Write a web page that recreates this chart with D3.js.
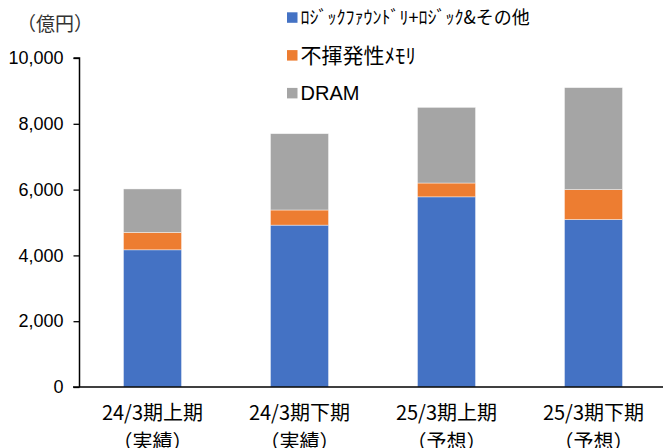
<!DOCTYPE html>
<html>
<head>
<meta charset="utf-8">
<script src="https://cdn.jsdelivr.net/npm/d3@7"></script>
<style>
  body { margin: 0; background: #fff; }
  svg { display: block; }
</style>
</head>
<body>
<svg width="663" height="448"></svg>
<script>
// データ（億円）
const categories = ["24/3期上期", "24/3期下期", "25/3期上期", "25/3期下期"];
const subLabels = ["（実績）", "（実績）", "（予想）", "（予想）"];
const seriesNames = ["ﾛｼﾞｯｸﾌｧｳﾝﾄﾞﾘ+ﾛｼﾞｯｸ&その他", "不揮発性ﾒﾓﾘ", "DRAM"];
const logicValues = [4170, 4920, 5780, 5090];
const nandValues = [530, 460, 420, 910];
const dramValues = [1320, 2320, 2300, 3100];
const yTicks = [0, 2000, 4000, 6000, 8000, 10000];

const colors = ["#4472C4", "#ED7D31", "#A5A5A5"];
const legendFont = [18, 21, 20];

const svg = d3.select("svg");

/*----- echelles -----*/
const x = d3.scaleBand()
  .domain(categories)
  .range([79, 667])
  .paddingInner(0.605)
  .paddingOuter(0.3025);
const y = d3.scaleLinear().domain([0, 10000]).range([387, 58]);

// empilement
const rows = categories.map((c, i) => ({
  cat: c, s0: logicValues[i], s1: nandValues[i], s2: dramValues[i]
}));
const stacked = d3.stack().keys(["s0", "s1", "s2"])(rows);

svg.append("g")
  .selectAll("g")
  .data(stacked)
  .join("g")
  .attr("fill", (d, i) => colors[i])
  .selectAll("rect")
  .data(d => d)
  .join("rect")
  .attr("x", d => x(d.data.cat))
  .attr("width", x.bandwidth())
  .attr("y", d => y(d[1]))
  .attr("height", d => y(d[0]) - y(d[1]))
  .attr("stroke", "#fff")
  .attr("stroke-opacity", 0.6)
  .attr("stroke-width", 0.7);

/*----- axes -----*/
const yAxis = d3.axisLeft(y).tickValues(yTicks).tickSize(6).tickPadding(10)
  .tickFormat(d3.format(","));
const gy = svg.append("g").attr("transform", "translate(79.5,0)").call(yAxis);
gy.select(".domain").attr("d", "M-6," + y(10000) + "H0V" + y(0))
  .attr("stroke", "#000").attr("stroke-width", 1.5);
gy.selectAll(".tick line").attr("stroke", "#000").attr("stroke-width", 1.3);
gy.selectAll("text")
  .attr("font-family", "'Liberation Sans', Arial, sans-serif")
  .attr("font-size", 18)
  .attr("fill", "#000");

// ligne de base
svg.append("line")
  .attr("x1", 73).attr("x2", 663)
  .attr("y1", y(0)).attr("y2", y(0))
  .attr("stroke", "#000").attr("stroke-width", 1.5);

// etiquettes des categories
const lbl = svg.append("g")
  .attr("font-family", "'Noto Sans CJK JP', sans-serif")
  .attr("font-size", 20)
  .attr("fill", "#000")
  .attr("text-anchor", "middle");
lbl.selectAll("text.l1")
  .data(categories)
  .join("text")
  .attr("class", "l1")
  .attr("x", d => x(d) + x.bandwidth() / 2)
  .attr("y", 420)
  .text(d => d);
lbl.selectAll("text.l2")
  .data(subLabels)
  .join("text")
  .attr("class", "l2")
  .attr("x", (d, i) => x(categories[i]) + x.bandwidth() / 2)
  .attr("y", 449)
  .text(d => d);

// unite
svg.append("text")
  .attr("x", 17).attr("y", 31)
  .attr("font-family", "'Noto Sans CJK JP', sans-serif")
  .attr("font-size", 19)
  .attr("fill", "#333")
  .text("（億円）");

/*----- legende -----*/
const leg = svg.append("g")
  .selectAll("g")
  .data(seriesNames)
  .join("g")
  .attr("transform", (d, i) => "translate(287," + (17.5 + i * 37.8) + ")");
leg.append("rect")
  .attr("x", 0).attr("y", -5.2)
  .attr("width", 10.5).attr("height", 10.5)
  .attr("fill", (d, i) => colors[i]);
leg.append("text")
  .attr("x", 13.5)
  .attr("dy", "0.35em")
  .attr("font-family", (d, i) => i === 2 ? "'Liberation Sans', Arial, sans-serif" : "'Noto Sans CJK JP', sans-serif")
  .attr("font-size", (d, i) => legendFont[i])
  .attr("fill", "#000")
  .text(d => d);
</script>
</body>
</html>
